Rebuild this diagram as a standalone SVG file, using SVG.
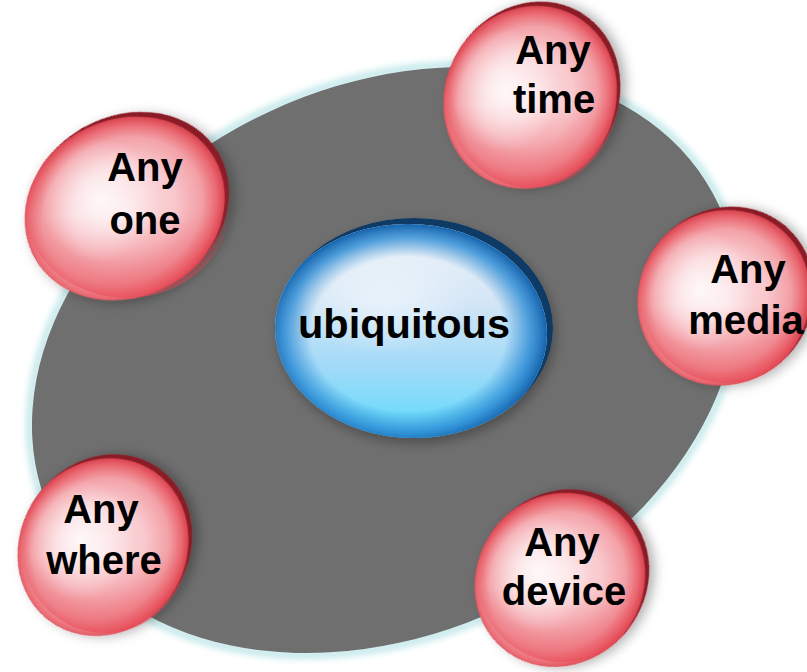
<svg xmlns="http://www.w3.org/2000/svg" width="807" height="672" viewBox="0 0 807 672">
<style>
  .lbl{font-family:"Liberation Sans",Arial,sans-serif;font-weight:bold;font-size:40px;fill:#000;text-anchor:middle}
  .center{font-size:41.5px}
</style>
<defs>
  <radialGradient id="redBase" cx="50%" cy="50%" r="50%">
    <stop offset="0" stop-color="#fde6e9"/>
    <stop offset="0.5" stop-color="#f9cfd3"/>
    <stop offset="0.78" stop-color="#f3a3a9"/>
    <stop offset="0.92" stop-color="#ea6a73"/>
    <stop offset="1" stop-color="#d9434f"/>
  </radialGradient>
  <linearGradient id="redLow" x1="0" y1="0" x2="0" y2="1">
    <stop offset="0" stop-color="#e84854" stop-opacity="0"/>
    <stop offset="0.55" stop-color="#e84854" stop-opacity="0.05"/>
    <stop offset="1" stop-color="#e84854" stop-opacity="0.55"/>
  </linearGradient>
  <radialGradient id="hl" cx="50%" cy="50%" r="50%">
    <stop offset="0" stop-color="#fff" stop-opacity="0.85"/>
    <stop offset="0.6" stop-color="#fff" stop-opacity="0.35"/>
    <stop offset="1" stop-color="#fff" stop-opacity="0"/>
  </radialGradient>
  <linearGradient id="blueBase" x1="0" y1="0" x2="0" y2="1">
    <stop offset="0" stop-color="#eef3f9"/>
    <stop offset="0.35" stop-color="#d4e6f6"/>
    <stop offset="0.65" stop-color="#a2daf8"/>
    <stop offset="1" stop-color="#55dcfd"/>
  </linearGradient>
  <radialGradient id="blueEdge" cx="50%" cy="50%" r="50%">
    <stop offset="0" stop-color="#2a88d0" stop-opacity="0"/>
    <stop offset="0.7" stop-color="#2a88d0" stop-opacity="0"/>
    <stop offset="0.88" stop-color="#2a8ad4" stop-opacity="0.8"/>
    <stop offset="1" stop-color="#1763ac" stop-opacity="1"/>
  </radialGradient>
  <clipPath id="sclip"><ellipse cx="0" cy="0" rx="100" ry="90"/></clipPath>
  <clipPath id="bclip"><ellipse cx="0" cy="0" rx="139" ry="110"/></clipPath>
  <filter id="shadow" x="-20%" y="-20%" width="140%" height="140%">
    <feDropShadow dx="3" dy="5" stdDeviation="6" flood-color="#000" flood-opacity="0.3"/>
  </filter>
  <filter id="glow" x="-10%" y="-10%" width="120%" height="120%">
    <feGaussianBlur stdDeviation="3"/>
  </filter>
</defs>

<g id="background">
  <ellipse cx="385" cy="360" rx="370" ry="276" transform="rotate(-25 385 360)" fill="none" stroke="#c4e8ea" stroke-width="8" filter="url(#glow)"/>
  <ellipse cx="385" cy="360" rx="368" ry="274" transform="rotate(-25 385 360)" fill="#6f6f6f"/>
</g>

<g id="node-ubiquitous">
  <g transform="translate(414,328)" filter="url(#shadow)">
    <g clip-path="url(#bclip)">
      <ellipse rx="139" ry="110" fill="#0c3a66"/>
      <ellipse cx="-6" cy="6" rx="139" ry="110" fill="url(#blueBase)"/>
      <ellipse cx="-6" cy="6" rx="139" ry="110" fill="url(#blueEdge)"/>
    </g>
  </g>
  <ellipse cx="385" cy="300" rx="90" ry="55" fill="url(#hl)" opacity="0.6"/>
  <text class="lbl center" x="404" y="338">ubiquitous</text>
</g>

<g id="node-any-one">
  <g transform="translate(127,206) rotate(-30) scale(1.06,1)" filter="url(#shadow)">
    <g clip-path="url(#sclip)">
      <ellipse rx="100" ry="90" fill="#8a1c28"/>
      <ellipse cx="-6" cy="2" rx="100" ry="90" fill="url(#redBase)"/>
    </g>
  </g>
  <ellipse cx="127" cy="206" rx="103" ry="92" fill="url(#redLow)"/>
  <ellipse cx="100" cy="200" rx="60" ry="62" fill="url(#hl)"/>
  <text class="lbl" x="145" y="181">Any</text>
  <text class="lbl" x="145" y="234">one</text>
</g>

<g id="node-any-time">
  <g transform="translate(532,95) rotate(-60) scale(0.96,0.956)" filter="url(#shadow)">
    <g clip-path="url(#sclip)">
      <ellipse rx="100" ry="90" fill="#8a1c28"/>
      <ellipse cx="-6" cy="-1" rx="100" ry="90" fill="url(#redBase)"/>
    </g>
  </g>
  <ellipse cx="532" cy="96" rx="86" ry="92" fill="url(#redLow)"/>
  <ellipse cx="505" cy="90" rx="55" ry="62" fill="url(#hl)"/>
  <text class="lbl" x="553" y="64">Any</text>
  <text class="lbl" x="554" y="113">time</text>
</g>

<g id="node-any-media">
  <g transform="translate(726,296) rotate(-50) scale(0.92,0.956)" filter="url(#shadow)">
    <g clip-path="url(#sclip)">
      <ellipse rx="100" ry="90" fill="#8a1c28"/>
      <ellipse cx="-6" cy="-1" rx="100" ry="90" fill="url(#redBase)"/>
    </g>
  </g>
  <ellipse cx="726" cy="297" rx="85" ry="86" fill="url(#redLow)"/>
  <ellipse cx="700" cy="290" rx="55" ry="60" fill="url(#hl)"/>
  <text class="lbl" x="748" y="283">Any</text>
  <text class="lbl" x="746" y="334">media</text>
</g>

<g id="node-any-where">
  <g transform="translate(105,545) rotate(-55) scale(0.94,0.933)" filter="url(#shadow)">
    <g clip-path="url(#sclip)">
      <ellipse rx="100" ry="90" fill="#8a1c28"/>
      <ellipse cx="-6" cy="-1" rx="100" ry="90" fill="url(#redBase)"/>
    </g>
  </g>
  <ellipse cx="105" cy="546" rx="84" ry="87" fill="url(#redLow)"/>
  <ellipse cx="80" cy="540" rx="55" ry="60" fill="url(#hl)"/>
  <text class="lbl" x="101" y="523">Any</text>
  <text class="lbl" x="104" y="574">where</text>
</g>

<g id="node-any-device">
  <g transform="translate(562,578) rotate(-50) scale(0.92,0.933)" filter="url(#shadow)">
    <g clip-path="url(#sclip)">
      <ellipse rx="100" ry="90" fill="#8a1c28"/>
      <ellipse cx="-6" cy="-1" rx="100" ry="90" fill="url(#redBase)"/>
    </g>
  </g>
  <ellipse cx="562" cy="579" rx="84" ry="83" fill="url(#redLow)"/>
  <ellipse cx="538" cy="572" rx="55" ry="60" fill="url(#hl)"/>
  <text class="lbl" x="562" y="556">Any</text>
  <text class="lbl" x="564" y="605">device</text>
</g>
</svg>
